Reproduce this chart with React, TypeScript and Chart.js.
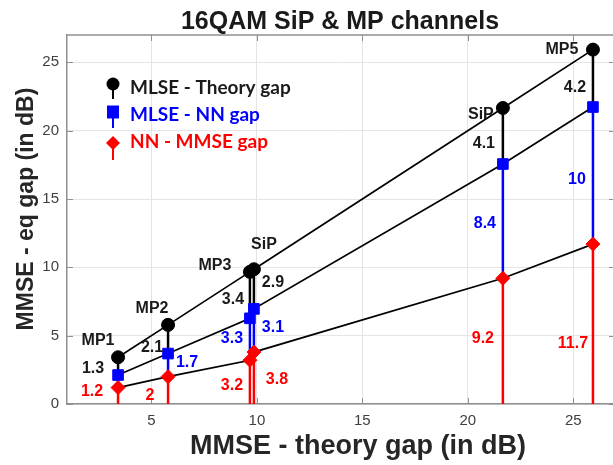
import React, { useEffect, useRef } from 'react';
import { Chart, registerables } from 'chart.js';

Chart.register(...registerables);

// Channels and their gaps (dB)
const channelNames = ['MP1', 'MP2', 'MP3', 'SiP', 'SiP', 'MP5'];
const mmseTheoryGap = [3.42, 5.79, 9.67, 9.86, 21.66, 25.93];
const mlseTheoryGap = [1.3, 2.1, 3.4, 2.9, 4.1, 4.2];
const mlseNnGap = [null, 1.7, 3.3, 3.1, 8.4, 10];
const nnMmseGap = [1.2, 2, 3.2, 3.8, 9.2, 11.7];

const xTickValues = [5, 10, 15, 20, 25];
const yTickValues = [0, 5, 10, 15, 20, 25];
const xRange = [1, 26.88];
const yRange = [0, 27];

const legendLabels = ['MLSE - Theory gap', 'MLSE - NN gap', 'NN - MMSE gap'];

// Levels of each receiver relative to MMSE
const mlseLevel = mmseTheoryGap.map((v) => v);
const nnLevel = mmseTheoryGap.map((v, i) => +(v - mlseTheoryGap[i]).toFixed(2));
const mmseLevel = nnMmseGap.map((v) => v);

// Text placement (pixel offsets from the anchor of each label)
const nameOffsets = [[-20, -17], [-16, -16], [-35, -6], [10, -25], [-22, 7], [-31, 0]];
const theoryOffsets = [[-25, 2], [-16, 8], [-17, 5], [19, -6], [-19, 8], [-18, 9]];
const nnOffsets = [null, [19, -3], [-18, -1], [19, -3], [-18, 2], [-16, 4]];
const mmseOffsets = [[-26, -4], [-18, 5], [-18, 3], [23, 2], [-20, -3], [-20, 20]];

const FONT = '"Liberation Sans", Arial, sans-serif';
const BLACK = '#000000';
const BLUE = '#0000ff';
const RED = '#ff0000';
const TEXT_DARK = '#1a1a1a';
const AXIS_GRAY = '#8f8f8f';

const CANVAS_W = 613;
const CANVAS_H = 465;

const points = (ys: number[]) => mmseTheoryGap.map((x, i) => ({ x, y: ys[i] }));

const stems = (tops: number[], bottoms: number[]) => {
  const out: { x: number; y: number | null }[] = [];
  mmseTheoryGap.forEach((x, i) => {
    out.push({ x, y: tops[i] }, { x, y: bottoms[i] }, { x, y: null });
  });
  return out;
};

const fmt = (v: number) => String(v);

// Box top edge plus inward tick marks on all four sides
const framePlugin = {
  id: 'frame',
  beforeDatasetsDraw(chart: any) {
    const { ctx, chartArea: a, scales } = chart;
    const len = 6;
    const right = a.right + 2;
    ctx.save();
    ctx.strokeStyle = AXIS_GRAY;
    ctx.lineWidth = 1.5;
    ctx.beginPath();
    ctx.moveTo(a.left, a.top);
    ctx.lineTo(right, a.top);
    ctx.stroke();
    ctx.lineWidth = 1;
    ctx.beginPath();
    xTickValues.forEach((v) => {
      const px = Math.round(scales.x.getPixelForValue(v)) + 0.5;
      ctx.moveTo(px, a.bottom);
      ctx.lineTo(px, a.bottom - len);
      ctx.moveTo(px, a.top);
      ctx.lineTo(px, a.top + len);
    });
    yTickValues.forEach((v) => {
      const py = Math.round(scales.y.getPixelForValue(v)) + 0.5;
      ctx.moveTo(a.left, py);
      ctx.lineTo(a.left + len, py);
      ctx.moveTo(right, py);
      ctx.lineTo(right - len, py);
    });
    ctx.stroke();
    ctx.restore();
  },
};

// Channel names and gap values next to the stems
const labelPlugin = {
  id: 'gapLabels',
  afterDatasetsDraw(chart: any) {
    const { ctx, scales } = chart;
    const sx = (v: number) => scales.x.getPixelForValue(v);
    const sy = (v: number) => scales.y.getPixelForValue(v);
    ctx.save();
    ctx.font = `bold 16px ${FONT}`;
    ctx.textAlign = 'center';
    ctx.textBaseline = 'middle';
    mmseTheoryGap.forEach((x, i) => {
      const px = sx(x);
      const yTop = sy(mlseLevel[i]);
      const yNn = sy(nnLevel[i]);
      const yMmse = sy(mmseLevel[i]);
      const yZero = sy(0);

      ctx.fillStyle = TEXT_DARK;
      ctx.fillText(channelNames[i], px + nameOffsets[i][0], yTop + nameOffsets[i][1]);
      ctx.fillText(fmt(mlseTheoryGap[i]), px + theoryOffsets[i][0], (yTop + yNn) / 2 + theoryOffsets[i][1]);

      const nnGap = mlseNnGap[i];
      const nnOff = nnOffsets[i];
      if (nnGap !== null && nnOff) {
        ctx.fillStyle = BLUE;
        ctx.fillText(fmt(nnGap), px + nnOff[0], (yNn + yMmse) / 2 + nnOff[1]);
      }

      ctx.fillStyle = RED;
      ctx.fillText(fmt(nnMmseGap[i]), px + mmseOffsets[i][0], (yMmse + yZero) / 2 + mmseOffsets[i][1]);
    });
    ctx.restore();
  },
};

// Stem-style legend in the upper-left corner, plus titles
const decorPlugin = {
  id: 'decor',
  afterDraw(chart: any) {
    const { ctx } = chart;
    ctx.save();

    const mx = 113;
    const rows = [
      { y: 84, stem: 15, color: BLACK, shape: 'circle' },
      { y: 112, stem: 16, color: BLUE, shape: 'square' },
      { y: 143, stem: 17, color: RED, shape: 'diamond' },
    ];
    rows.forEach((r, i) => {
      ctx.strokeStyle = r.color;
      ctx.fillStyle = r.color;
      ctx.lineWidth = 2;
      ctx.beginPath();
      ctx.moveTo(mx, r.y);
      ctx.lineTo(mx, r.y + r.stem);
      ctx.stroke();
      ctx.beginPath();
      if (r.shape === 'circle') {
        ctx.arc(mx, r.y, 6.5, 0, Math.PI * 2);
      } else if (r.shape === 'square') {
        ctx.rect(mx - 6, r.y - 6.5, 12, 13);
      } else {
        ctx.moveTo(mx - 7, r.y);
        ctx.lineTo(mx, r.y - 7);
        ctx.lineTo(mx + 7, r.y);
        ctx.lineTo(mx, r.y + 7);
        ctx.closePath();
      }
      ctx.fill();
      ctx.font = 'bold 19px Lato, "Open Sans", sans-serif';
      ctx.textAlign = 'left';
      ctx.textBaseline = 'middle';
      ctx.fillStyle = i === 0 ? TEXT_DARK : r.color;
      ctx.fillText(legendLabels[i], 130, [88, 115, 142][i]);
    });

    ctx.fillStyle = TEXT_DARK;
    ctx.textAlign = 'center';
    ctx.textBaseline = 'alphabetic';
    ctx.font = `bold 25px ${FONT}`;
    ctx.fillText('16QAM SiP & MP channels', 340, 29);

    ctx.fillStyle = '#262626';
    ctx.font = `bold 27px ${FONT}`;
    ctx.fillText('MMSE - theory gap (in dB)', 358, 454);

    ctx.translate(33, 209);
    ctx.rotate(-Math.PI / 2);
    ctx.font = `bold 23px ${FONT}`;
    ctx.fillText('MMSE - eq gap (in dB)', 0, 0);

    ctx.restore();
  },
};

export default function App() {
  const canvasRef = useRef<HTMLCanvasElement | null>(null);

  useEffect(() => {
    const canvas = canvasRef.current;
    if (!canvas) return;

    const markerLine = {
      showLine: true,
      borderColor: BLACK,
      borderWidth: 1.7,
      pointBorderWidth: 1,
    };
    const stemBase = {
      showLine: true,
      spanGaps: false,
      pointRadius: 0,
      borderWidth: 2.5,
    };

    const chart = new Chart(canvas, {
      type: 'scatter',
      data: {
        datasets: [
          {
            ...markerLine,
            label: legendLabels[0],
            data: points(mlseLevel),
            pointStyle: 'circle',
            pointRadius: 6.5,
            pointBackgroundColor: BLACK,
            pointBorderColor: BLACK,
          },
          {
            ...markerLine,
            label: legendLabels[1],
            data: points(nnLevel),
            pointStyle: 'rect',
            pointRadius: 7.5,
            pointBackgroundColor: BLUE,
            pointBorderColor: BLUE,
          },
          {
            ...markerLine,
            label: legendLabels[2],
            data: points(mmseLevel),
            pointStyle: 'rectRot',
            pointRadius: 7,
            pointBackgroundColor: RED,
            pointBorderColor: RED,
          },
          { ...stemBase, label: 'theory stem', data: stems(mlseLevel, nnLevel), borderColor: BLACK },
          { ...stemBase, label: 'nn stem', data: stems(nnLevel, mmseLevel), borderColor: BLUE },
          { ...stemBase, label: 'mmse stem', data: stems(mmseLevel, mmseLevel.map(() => 0)), borderColor: RED },
        ],
      },
      options: {
        responsive: false,
        animation: false,
        events: [],
        layout: { autoPadding: false, padding: { top: 35, right: 0, left: 0, bottom: 0 } },
        plugins: {
          legend: { display: false },
          tooltip: { enabled: false },
          title: { display: false },
        },
        scales: {
          x: {
            type: 'linear',
            min: xRange[0],
            max: xRange[1],
            afterBuildTicks: (s: any) => {
              s.ticks = xTickValues.map((value) => ({ value }));
            },
            afterFit: (s: any) => {
              s.height = 61;
              s.paddingLeft = 0;
              s.paddingRight = 0;
            },
            grid: { color: '#e4e4e4', lineWidth: 1, drawTicks: false },
            border: { display: true, color: AXIS_GRAY, width: 1.5 },
            ticks: { padding: 8, color: '#404040', maxRotation: 0, font: { family: FONT, size: 15 } },
          },
          y: {
            type: 'linear',
            min: yRange[0],
            max: yRange[1],
            afterBuildTicks: (s: any) => {
              s.ticks = yTickValues.map((value) => ({ value }));
            },
            afterFit: (s: any) => {
              s.width = 67;
            },
            grid: { color: '#e4e4e4', lineWidth: 1, drawTicks: false },
            border: { display: true, color: AXIS_GRAY, width: 1.5 },
            ticks: { padding: 8, color: '#404040', font: { family: FONT, size: 15 } },
          },
        },
      },
      plugins: [framePlugin, labelPlugin, decorPlugin],
    } as any);

    return () => chart.destroy();
  }, []);

  return (
    <div
      style={{
        position: 'fixed',
        left: 0,
        top: 0,
        width: CANVAS_W,
        height: CANVAS_H,
        overflow: 'hidden',
        background: '#ffffff',
      }}
    >
      <canvas
        ref={canvasRef}
        width={CANVAS_W}
        height={CANVAS_H}
        style={{ display: 'block', width: CANVAS_W, height: CANVAS_H }}
      />
    </div>
  );
}
